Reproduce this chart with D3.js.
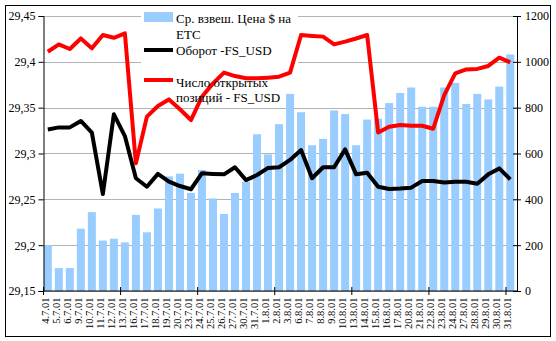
<!DOCTYPE html>
<html>
<head>
<meta charset="utf-8">
<script src="https://cdn.jsdelivr.net/npm/d3@7/dist/d3.min.js"></script>
<style>
  html, body { margin: 0; padding: 0; background: #fff; }
  svg { display: block; }
</style>
</head>
<body>
<svg id="chart" width="556" height="341"></svg>
<script>
// Trading days, July–August 2001
const dates = ["4.7.01","5.7.01","6.7.01","9.7.01","10.7.01","11.7.01","12.7.01","13.7.01",
  "16.7.01","17.7.01","18.7.01","19.7.01","20.7.01","23.7.01","24.7.01","25.7.01","26.7.01",
  "27.7.01","30.7.01","31.7.01","1.8.01","2.8.01","3.8.01","6.8.01","7.8.01","8.8.01","9.8.01",
  "10.8.01","13.8.01","14.8.01","15.8.01","16.8.01","17.8.01","20.8.01","21.8.01","22.8.01",
  "23.8.01","24.8.01","27.8.01","28.8.01","29.8.01","30.8.01","31.8.01"];

// Weighted average price, $ (left axis)
const price = [29.200,29.175,29.175,29.218,29.236,29.205,29.207,29.203,29.233,29.214,29.240,
  29.275,29.278,29.257,29.282,29.251,29.234,29.257,29.269,29.321,29.299,29.332,29.365,29.345,
  29.309,29.316,29.347,29.343,29.309,29.337,29.338,29.355,29.366,29.372,29.351,29.351,29.372,
  29.377,29.354,29.365,29.359,29.373,29.408];

// Turnover FS_USD (right axis)
const turnover = [705,714,714,742,691,423,771,676,492,455,511,
  477,458,444,514,511,509,540,484,506,537,540,
  572,615,492,540,540,618,509,516,455,445,447,
  451,480,480,473,477,477,468,509,535,487];

// Open positions FS_USD (right axis)
const openPos = [1044,1076,1056,1102,1059,1117,1105,1124,557,761,807,836,793,746,848,906,953,
  938,928,928,931,935,953,1117,1113,1110,1076,1088,1102,1117,692,717,724,721,721,708,855,950,
  967,969,982,1018,998];

const leftTicks = [29.15,29.2,29.25,29.3,29.35,29.4,29.45];
const leftTickLabels = ["29,15","29,2","29,25","29,3","29,35","29,4","29,45"];
const rightTicks = [0,200,400,600,800,1000,1200];

const legendLabels = [["Ср. взвеш. Цена $ на","ЕТС"],["Оборот -FS_USD"],["Число открытых","позиций - FS_USD"]];

const SERIF = "'Liberation Serif', 'Times New Roman', Times, serif";
const svg = d3.select("#chart");
const plot = {left: 43.5, right: 517, top: 16, bottom: 291};

const x = d3.scaleBand().domain(dates).range([plot.left, plot.right]);
const cx = d => x(d) + x.bandwidth() / 2 - 1.2;
const yL = d3.scaleLinear().domain([29.15, 29.45]).range([plot.bottom, plot.top]);
const yR = d3.scaleLinear().domain([0, 1200]).range([plot.bottom, plot.top]);

// outer frame
svg.append("rect").attr("x", 5.5).attr("y", 5.5).attr("width", 545).attr("height", 331)
  .attr("fill", "#fff").attr("stroke", "#000").attr("stroke-width", 1);

// gridlines from left axis
svg.append("g").selectAll("line").data(leftTicks).join("line")
  .attr("x1", plot.left).attr("x2", plot.right)
  .attr("y1", d => Math.round(yL(d)) + 0.5).attr("y2", d => Math.round(yL(d)) + 0.5)
  .attr("stroke", "#b3b3b3").attr("stroke-width", 1);

// legend backdrop
svg.append("rect").attr("x", 141).attr("y", 6).attr("width", 157).attr("height", 100).attr("fill", "#fff");

// bars
const barW = 8;
svg.append("g").selectAll("rect").data(dates).join("rect")
  .attr("x", d => cx(d) - barW / 2)
  .attr("width", barW)
  .attr("y", (d, i) => yL(price[i]))
  .attr("height", (d, i) => plot.bottom - yL(price[i]))
  .attr("fill", "#99ccff");

// lines
const lineGen = vals => d3.line().x((d, i) => cx(dates[i])).y(d => yR(d))(vals);
svg.append("path").attr("d", lineGen(turnover)).attr("fill", "none")
  .attr("stroke", "#000").attr("stroke-width", 4).attr("stroke-linejoin", "round");
svg.append("path").attr("d", lineGen(openPos)).attr("fill", "none")
  .attr("stroke", "#ff0000").attr("stroke-width", 4).attr("stroke-linejoin", "round");

// left axis
const axL = svg.append("g").attr("transform", `translate(${plot.left},0)`)
  .call(d3.axisLeft(yL).tickValues(leftTicks).tickSize(5).tickFormat((d, i) => leftTickLabels[i]).tickPadding(3));
axL.select(".domain").attr("stroke", "#000");
axL.selectAll("text").attr("font-size", 12);

// right axis
const axR = svg.append("g").attr("transform", `translate(${plot.right},0)`)
  .call(d3.axisRight(yR).tickValues(rightTicks).tickFormat(d3.format("d"))
    .tickSizeInner(4).tickSizeOuter(0).tickPadding(4));
axR.selectAll(".tick line").attr("x1", -4).attr("x2", 4);
axR.selectAll("text").attr("font-size", 12);

// bottom axis
const axB = svg.append("g").attr("transform", `translate(0,${plot.bottom})`);
axB.append("line").attr("x1", plot.left).attr("x2", plot.right).attr("stroke", "#000");
const tickIdx = d3.range(0, dates.length, 7);
axB.selectAll("line.tk").data(tickIdx).join("line").attr("class", "tk")
  .attr("x1", i => x(dates[i])).attr("x2", i => x(dates[i]))
  .attr("y1", -4).attr("y2", 4).attr("stroke", "#000");
axB.selectAll("text").data(dates).join("text")
  .attr("transform", d => `translate(${cx(d) + 0.8},6.5) rotate(-90)`)
  .attr("text-anchor", "end")
  .attr("font-size", 10.5)
  .text(d => d);

// legend
const lg = svg.append("g");
lg.append("rect").attr("x", 144).attr("y", 12).attr("width", 29).attr("height", 10).attr("fill", "#99ccff");
lg.append("line").attr("x1", 144).attr("x2", 173).attr("y1", 50).attr("y2", 50).attr("stroke", "#000").attr("stroke-width", 4);
lg.append("line").attr("x1", 144).attr("x2", 173).attr("y1", 80).attr("y2", 80).attr("stroke", "#ff0000").attr("stroke-width", 4);
const lgBase = [[23, 39], [55], [86.5, 102]];
legendLabels.forEach((lines, k) => {
  lines.forEach((t, j) => {
    lg.append("text").attr("x", 176).attr("y", lgBase[k][j]).attr("font-size", 13).text(t);
  });
});

// every label in the serif face
svg.selectAll("g").attr("font-family", null);
svg.selectAll("text").attr("font-family", SERIF).style("font-family", SERIF).attr("fill", "#000");
</script>
</body>
</html>
